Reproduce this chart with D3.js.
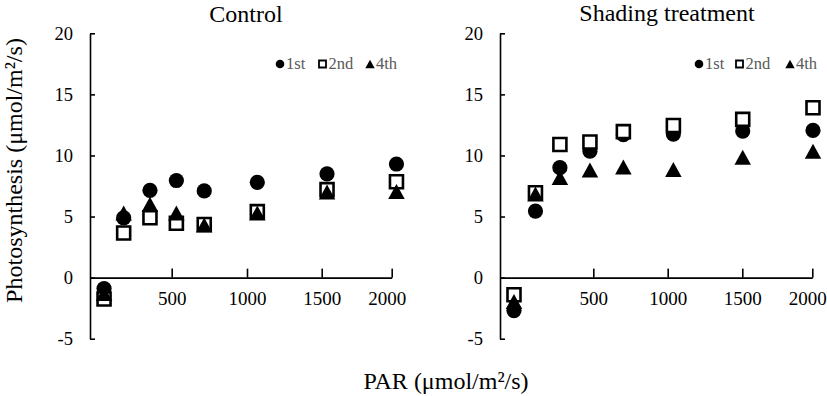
<!DOCTYPE html>
<html>
<head>
<meta charset="utf-8">
<script src="https://cdn.jsdelivr.net/npm/d3@7"></script>
<style>
  body { margin: 0; background: #fff; }
  svg { display: block; }
  svg text { font-family: "Liberation Serif", "Times New Roman", serif; }
</style>
</head>
<body>
<div id="vis"></div>
<script>
const FRAME_WIDTH = 827;
const FRAME_HEIGHT = 396;

// data
const SERIES = ["1st", "2nd", "4th"];
const X_TICKS = [500, 1000, 1500, 2000];
const Y_TICKS = [-5, 0, 5, 10, 15, 20];

const PAR_CONTROL = [86, 206, 367, 531, 716, 1069, 1538, 2034];
const CONTROL_1ST = [-0.9, 4.9, 7.15, 7.95, 7.1, 7.8, 8.5, 9.3];
const CONTROL_2ND = [-1.75, 3.65, 4.9, 4.45, 4.35, 5.4, 7.2, 7.85];
const CONTROL_4TH = [-1.3, 5.3, 6.0, 5.3, 4.3, 5.3, 7.0, 7.05];

const PAR_SHADE = [75, 190, 321, 482, 702, 1038, 1503, 2005];
const SHADE_1ST = [-2.7, 5.45, 9.0, 10.35, 11.7, 11.75, 12.0, 12.05];
const SHADE_2ND = [-1.4, 6.95, 10.9, 11.1, 11.95, 12.45, 12.95, 13.9];
const SHADE_4TH = [-1.95, 6.85, 8.2, 8.8, 9.05, 8.85, 9.85, 10.35];

// layout (pixel positions of x ticks differ a little between panels)
const PANELS = [
  { title: "Control", titleX: 246, titleY: 22, titleSize: 24,
    xRange: [90, 171.7, 247, 321.7, 391.7],
    lastLabelShift: -5,
    legendX: [280, 322.5, 370],
    par: PAR_CONTROL, values: [CONTROL_1ST, CONTROL_2ND, CONTROL_4TH] },
  { title: "Shading treatment", titleX: 667, titleY: 21, titleSize: 24,
    xRange: [500, 593.3, 667.7, 742.3, 812.3],
    lastLabelShift: -5,
    legendX: [699, 739.5, 790],
    par: PAR_SHADE, values: [SHADE_1ST, SHADE_2ND, SHADE_4TH] }
];

const Y_SCALE = d3.scaleLinear().domain([-5, 20]).range([338.7, 33.3]);

// triangle centred on its bounding box, like the spreadsheet marker
const TRIANGLE = {
  draw(ctx, size) {
    const h = Math.sqrt(size);
    ctx.moveTo(0, -h / 2);
    ctx.lineTo(h * 0.55, h / 2);
    ctx.lineTo(-h * 0.55, h / 2);
    ctx.closePath();
  }
};

function markerPath(name, big) {
  if (name === "1st") return d3.symbol(d3.symbolCircle, big ? Math.PI * 7.6 * 7.6 : Math.PI * 4.3 * 4.3)();
  if (name === "2nd") return d3.symbol(d3.symbolSquare, big ? 13 * 13 : 7 * 7)();
  return d3.symbol(TRIANGLE, big ? 15 * 15 : 8.5 * 8.5)();
}

function styleMarker(sel, name, big) {
  if (name === "2nd") {
    sel.attr("fill", "#fff").attr("stroke", "#000").attr("stroke-width", big ? 2.6 : 1.8);
  } else {
    sel.attr("fill", "#000").attr("stroke", "none");
  }
}

const SVG = d3.select("#vis")
  .append("svg")
    .attr("width", FRAME_WIDTH)
    .attr("height", FRAME_HEIGHT);

PANELS.forEach((p) => {
  const X_SCALE = d3.scaleLinear()
    .domain([0, 500, 1000, 1500, 2000])
    .range(p.xRange);
  const x0 = p.xRange[0];
  const y0 = Y_SCALE(0);

  // y axis, ticks pointing inwards
  const yAxis = SVG.append("g")
    .attr("transform", "translate(" + x0 + ",0)")
    .call(d3.axisLeft(Y_SCALE).tickValues(Y_TICKS).tickFormat((d) => String(d))
      .tickSizeInner(-5).tickSizeOuter(0).tickPadding(17))
    .attr("font-size", 18.5);
  yAxis.select(".domain").attr("stroke-width", 1.6);
  yAxis.selectAll(".tick line").attr("stroke-width", 1.6);
  yAxis.selectAll("text").attr("fill", "#000");

  // x axis crossing at 0, ticks pointing up
  const xAxis = SVG.append("g")
    .attr("transform", "translate(0," + y0 + ")")
    .call(d3.axisBottom(X_SCALE).tickValues(X_TICKS).tickFormat((d) => String(d))
      .tickSizeInner(-9).tickSizeOuter(0).tickPadding(14))
    .attr("font-size", 19);
  xAxis.select(".domain").attr("stroke-width", 1.6);
  xAxis.selectAll(".tick line").attr("stroke-width", 1.6);
  xAxis.selectAll("text").attr("fill", "#000")
    .attr("dx", (d) => d === 2000 ? p.lastLabelShift : 0);

  // title
  SVG.append("text")
    .attr("x", p.titleX)
    .attr("y", p.titleY)
    .attr("text-anchor", "middle")
    .attr("font-size", p.titleSize + "px")
    .text(p.title);

  // points: circles, then squares, then triangles on top
  SERIES.forEach((name, i) => {
    SVG.append("g").selectAll("path")
      .data(p.values[i].map((v, j) => ({ x: p.par[j], y: v })))
      .enter()
      .append("path")
        .attr("d", markerPath(name, true))
        .attr("transform", (d) => "translate(" + X_SCALE(d.x) + "," + Y_SCALE(d.y) + ")")
        .call(styleMarker, name, true);
  });

  // legend
  SERIES.forEach((name, i) => {
    const lx = p.legendX[i];
    SVG.append("path")
      .attr("d", markerPath(name, false))
      .attr("transform", "translate(" + lx + ",64)")
      .call(styleMarker, name, false);
    SVG.append("text")
      .attr("x", lx + 6)
      .attr("y", 69)
      .attr("font-size", "16.5px")
      .attr("fill", "#595959")
      .text(name);
  });
});

// shared axis titles
SVG.append("text")
  .attr("transform", "translate(22,170.5) rotate(-90)")
  .attr("text-anchor", "middle")
  .attr("font-size", "24px")
  .text("Photosynthesis (μmol/m²/s)");

SVG.append("text")
  .attr("x", 446)
  .attr("y", 389)
  .attr("text-anchor", "middle")
  .attr("font-size", "24px")
  .text("PAR (μmol/m²/s)");
</script>
</body>
</html>
